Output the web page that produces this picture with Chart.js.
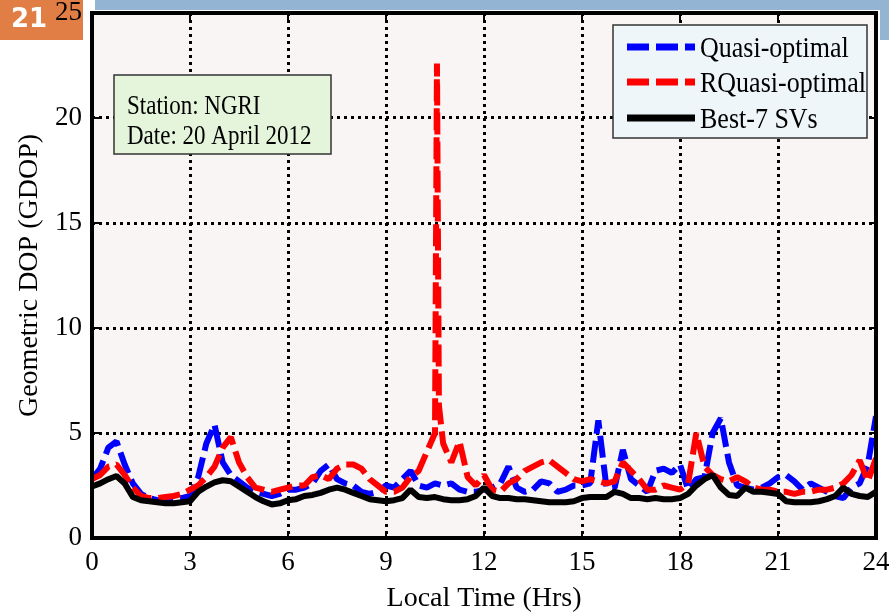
<!DOCTYPE html>
<html>
<head>
<meta charset="utf-8">
<title>Geometric DOP - NGRI</title>
<script src="https://cdn.jsdelivr.net/npm/chart.js@4.4.1/dist/chart.umd.min.js"></script>
<style>
    html, body { margin: 0; padding: 0; background: #ffffff; }
    #wrap { position: relative; width: 889px; height: 613px; }
</style>
</head>
<body>
<div id="wrap"><canvas id="gdop-chart" width="889" height="613"></canvas></div>
<script>
// Time axis, 15-minute samples (hours)
const hours = [
    0, 0.25, 0.5, 0.75, 1, 1.25, 1.5, 1.75, 2, 2.25, 2.5, 2.75,
    3, 3.25, 3.5, 3.75, 4, 4.25, 4.5, 4.75, 5, 5.25, 5.5, 5.75,
    6, 6.25, 6.5, 6.75, 7, 7.25, 7.5, 7.75, 8, 8.25, 8.5, 8.75,
    9, 9.25, 9.5, 9.75, 10, 10.25, 10.5, 10.75, 11, 11.25, 11.5, 11.75,
    12, 12.25, 12.5, 12.75, 13, 13.25, 13.5, 13.75, 14, 14.25, 14.5, 14.75,
    15, 15.25, 15.5, 15.75, 16, 16.25, 16.5, 16.75, 17, 17.25, 17.5, 17.75,
    18, 18.25, 18.5, 18.75, 19, 19.25, 19.5, 19.75, 20, 20.25, 20.5, 20.75,
    21, 21.25, 21.5, 21.75, 22, 22.25, 22.5, 22.75, 23, 23.25, 23.5, 23.75,
    24
];

// Quasi-optimal GDOP
const quasiOptimal = [
    2.8, 3.3, 4.3, 4.6, 3.5, 2.6, 2.1, 1.9, 1.8, 1.8, 1.85, 1.9,
    2.0, 2.9, 4.5, 5.4, 3.6, 3.0, 2.7, 2.4, 2.2, 2.1, 2.0, 2.1,
    2.3, 2.3, 2.4, 2.6, 3.2, 3.5, 2.8, 2.6, 2.5, 2.2, 2.1, 2.2,
    2.5, 2.4, 2.8, 3.2, 2.5, 2.4, 2.6, 2.5, 2.6, 2.3, 2.2, 2.2,
    2.3, 2.4, 2.6, 3.4, 2.4, 2.2, 2.3, 2.7, 2.6, 2.2, 2.3, 2.5,
    2.5, 2.6, 5.6, 2.4, 2.4, 4.2, 2.8, 2.5, 2.2, 3.2, 3.3, 3.1,
    3.5, 2.3, 2.8, 2.9, 5.0, 5.7, 3.6, 2.5, 2.4, 2.3, 2.4, 2.6,
    2.9, 3.0, 2.7, 2.3, 2.6, 2.4, 2.2, 2.0, 1.9, 2.4, 2.6, 3.5,
    5.8
];

// RQuasi-optimal has its own time axis (extra samples around the spike)
const rquasiHours = [
    0, 0.25, 0.5, 0.75, 1, 1.25, 1.5, 1.75, 2, 2.25, 2.5, 2.75,
    3, 3.25, 3.5, 3.75, 4, 4.25, 4.5, 4.75, 5, 5.25, 5.5, 5.75,
    6, 6.25, 6.5, 6.75, 7, 7.25, 7.5, 7.75, 8, 8.25, 8.5, 8.75,
    9, 9.25, 9.5, 9.75, 10, 10.25, 10.5, 10.56, 10.62,
    10.75, 11, 11.25, 11.5, 11.75,
    12, 12.25, 12.5, 12.75, 13, 13.25, 13.5, 13.75, 14, 14.25, 14.5, 14.75,
    15, 15.25, 15.5, 15.75, 16, 16.25, 16.5, 16.75, 17, 17.25, 17.5, 17.75,
    18, 18.25, 18.5, 18.75, 19, 19.25, 19.5, 19.75, 20, 20.25, 20.5, 20.75,
    21, 21.25, 21.5, 21.75, 22, 22.25, 22.5, 22.75, 23, 23.25, 23.5, 23.75,
    24
];

const rquasiOptimal = [
    2.8, 3.0, 3.4, 3.5, 3.0, 2.4, 2.0, 1.9, 1.9, 1.95, 2.0, 2.1,
    2.3, 2.5, 2.9, 3.4, 4.3, 4.8, 3.6, 2.9, 2.4, 2.3, 2.2, 2.3,
    2.4, 2.5, 2.5, 2.9, 3.0, 2.8, 3.3, 3.5, 3.5, 3.3, 2.8, 2.5,
    2.2, 2.2, 2.4, 2.9, 3.2, 4.1, 5.0, 22.6, 6.3,
    4.5, 3.6, 4.6, 2.9, 2.5,
    3.0, 2.3, 2.2, 2.6, 2.8, 3.2, 3.4, 3.6, 3.7, 3.4, 3.1, 2.8,
    2.7, 2.8, 2.7, 2.6, 2.7, 3.6, 3.2, 2.8, 2.3, 2.3, 2.5, 2.4,
    2.3, 2.6, 5.0, 3.4, 3.0, 2.8, 2.7, 2.9, 2.7, 2.4, 2.3, 2.3,
    2.2, 2.2, 2.1, 2.2, 2.2, 2.3, 2.3, 2.4, 2.6, 3.0, 3.7, 2.7,
    3.8
];

// Best-7 SVs GDOP
const best7 = [
    2.45, 2.6, 2.8, 2.95, 2.6, 1.95, 1.8, 1.75, 1.7, 1.65, 1.65, 1.7,
    1.75, 2.2, 2.45, 2.65, 2.75, 2.7, 2.45, 2.2, 1.95, 1.75, 1.6, 1.65,
    1.8, 1.85, 2.0, 2.05, 2.15, 2.3, 2.4, 2.3, 2.15, 2.0, 1.85, 1.8,
    1.75, 1.8, 1.9, 2.3, 1.95, 1.9, 1.95, 1.85, 1.8, 1.8, 1.85, 2.0,
    2.4, 2.0, 1.9, 1.9, 1.85, 1.85, 1.8, 1.75, 1.7, 1.7, 1.7, 1.75,
    1.9, 1.95, 1.95, 1.95, 2.2, 2.1, 1.9, 1.9, 1.85, 1.9, 1.85, 1.85,
    1.9, 2.1, 2.5, 2.8, 3.0, 2.4, 2.05, 2.0, 2.4, 2.2, 2.2, 2.15,
    2.1, 1.75, 1.7, 1.7, 1.7, 1.75, 1.85, 2.0, 2.4, 2.1, 2.0, 1.95,
    2.2
];

const xTicks = [0, 3, 6, 9, 12, 15, 18, 21, 24];
const yTicks = [0, 5, 10, 15, 20, 25];
const infoLines = ['Station: NGRI', 'Date: 20 April 2012'];
const slideNumber = '21';

const SERIF = '"Liberation Serif", "Times New Roman", serif';

const toPoints = (xs, ys) => xs.map((x, i) => ({ x: x, y: ys[i] }));

// 세로로 조금 늘린 텍스트 (원본 그림의 글꼴 비율 흉내)
function drawStretchedText(ctx, text, x, baseline, size, stretch) {
    ctx.save();
    ctx.translate(x, baseline);
    ctx.scale(1, stretch);
    ctx.font = size + 'px ' + SERIF;
    ctx.textAlign = 'left';
    ctx.textBaseline = 'alphabetic';
    ctx.fillStyle = '#000';
    ctx.fillText(text, 0, 0);
    ctx.restore();
}

const slideDecor = {
    id: 'slideDecor',
    beforeDraw(chart) {
        const { ctx, chartArea: a } = chart;
        ctx.save();
        ctx.fillStyle = '#ffffff';
        ctx.fillRect(0, 0, chart.width, chart.height);

        // slide header band
        ctx.fillStyle = '#94b4d4';
        ctx.fillRect(95, 0, chart.width - 95, 10);
        ctx.fillRect(880, 0, chart.width - 880, 40);

        // slide number badge
        ctx.fillStyle = '#e07e45';
        ctx.fillRect(0, 0, 83, 40);
        ctx.fillStyle = '#ffffff';
        ctx.font = 'bold 26px "DejaVu Sans", sans-serif';
        ctx.textAlign = 'left';
        ctx.textBaseline = 'middle';
        ctx.fillText(slideNumber, 11, 20);

        // plot background
        ctx.fillStyle = '#f9f5f4';
        ctx.fillRect(a.left, a.top, a.right - a.left, a.bottom - a.top);
        ctx.restore();
    },
    afterDraw(chart) {
        const { ctx, chartArea: a } = chart;
        const xs = chart.scales.x;
        const ys = chart.scales.y;
        ctx.save();

        // axis frame
        ctx.strokeStyle = '#000';
        ctx.lineWidth = 4;
        ctx.strokeRect(a.left, a.top, a.right - a.left, a.bottom - a.top);

        // inward tick marks
        ctx.lineWidth = 2;
        ctx.beginPath();
        xTicks.forEach(v => {
            const px = Math.round(xs.getPixelForValue(v));
            ctx.moveTo(px, a.bottom); ctx.lineTo(px, a.bottom - 7);
            ctx.moveTo(px, a.top); ctx.lineTo(px, a.top + 7);
        });
        yTicks.forEach(v => {
            const py = Math.round(ys.getPixelForValue(v));
            ctx.moveTo(a.left, py); ctx.lineTo(a.left + 7, py);
            ctx.moveTo(a.right, py); ctx.lineTo(a.right - 7, py);
        });
        ctx.stroke();

        // station / date box
        ctx.fillStyle = '#e5f5dc';
        ctx.fillRect(114, 75, 217, 79);
        ctx.strokeStyle = '#333';
        ctx.lineWidth = 1.5;
        ctx.strokeRect(114, 75, 217, 79);
        drawStretchedText(ctx, infoLines[0], 127, 114, 23, 1.2);
        drawStretchedText(ctx, infoLines[1], 127, 144, 23, 1.2);

        // legend
        ctx.fillStyle = '#eef6f9';
        ctx.fillRect(613, 25, 254, 113);
        ctx.strokeStyle = '#333';
        ctx.lineWidth = 1.5;
        ctx.strokeRect(613, 25, 254, 113);
        const rows = [47, 82, 118];
        chart.data.datasets.forEach((ds, i) => {
            const y = rows[i];
            ctx.save();
            ctx.strokeStyle = ds.borderColor;
            ctx.lineWidth = 7;
            ctx.lineCap = 'butt';
            ctx.setLineDash(ds.borderDash || []);
            ctx.beginPath();
            ctx.moveTo(627, y);
            ctx.lineTo(695, y);
            ctx.stroke();
            ctx.restore();
            drawStretchedText(ctx, ds.label, 700, y + 10, 26, 1.15);
        });
        ctx.restore();
    }
};

const ctx = document.getElementById('gdop-chart').getContext('2d');
const gdopChart = new Chart(ctx, {
    type: 'line',
    data: {
        datasets: [
            {
                label: 'Quasi-optimal',
                data: toPoints(hours, quasiOptimal),
                borderColor: '#0000ff',
                borderDash: [22, 7],
                borderWidth: 6,
                order: 3
            },
            {
                label: 'RQuasi-optimal',
                data: toPoints(rquasiHours, rquasiOptimal),
                borderColor: '#ff0000',
                borderDash: [22, 7],
                borderWidth: 6,
                order: 2
            },
            {
                label: 'Best-7 SVs',
                data: toPoints(hours, best7),
                borderColor: '#000000',
                borderWidth: 6,
                order: 1
            }
        ]
    },
    options: {
        responsive: false,
        animation: false,
        layout: { padding: { top: 13, right: 13, left: 0, bottom: 0 } },
        elements: {
            point: { radius: 0 },
            line: { tension: 0, fill: false, borderCapStyle: 'butt', borderJoinStyle: 'bevel' }
        },
        plugins: {
            legend: { display: false },
            tooltip: { enabled: false }
        },
        scales: {
            x: {
                type: 'linear',
                min: 0,
                max: 24,
                afterBuildTicks: axis => { axis.ticks = xTicks.map(v => ({ value: v })); },
                afterFit: scale => {
                    scale.height = 75;
                    scale.paddingLeft = 0;
                    scale.paddingRight = 0;
                },
                grid: { color: '#000', lineWidth: 3, drawTicks: false },
                border: { display: false, dash: [3, 4] },
                ticks: {
                    padding: 11,
                    color: '#000',
                    font: { family: 'Liberation Serif', size: 27, lineHeight: 1 },
                    maxRotation: 0,
                    autoSkip: false
                },
                title: {
                    display: true,
                    text: 'Local Time (Hrs)',
                    color: '#000',
                    font: { family: 'Liberation Serif', size: 28, lineHeight: 1 },
                    padding: { top: 0, bottom: 0 }
                }
            },
            y: {
                min: 0,
                max: 25,
                afterBuildTicks: axis => { axis.ticks = yTicks.map(v => ({ value: v })); },
                afterFit: scale => {
                    scale.width = 92;
                    scale.paddingTop = 0;
                    scale.paddingBottom = 0;
                },
                grid: { color: '#000', lineWidth: 3, drawTicks: false },
                border: { display: false, dash: [3, 4] },
                ticks: {
                    padding: 10,
                    color: '#000',
                    font: { family: 'Liberation Serif', size: 27, lineHeight: 1 }
                },
                title: {
                    display: true,
                    text: 'Geometric DOP (GDOP)',
                    color: '#000',
                    font: { family: 'Liberation Serif', size: 28, lineHeight: 1 },
                    padding: { top: 16, bottom: 0 }
                }
            }
        }
    },
    plugins: [slideDecor]
});
</script>
</body>
</html>
